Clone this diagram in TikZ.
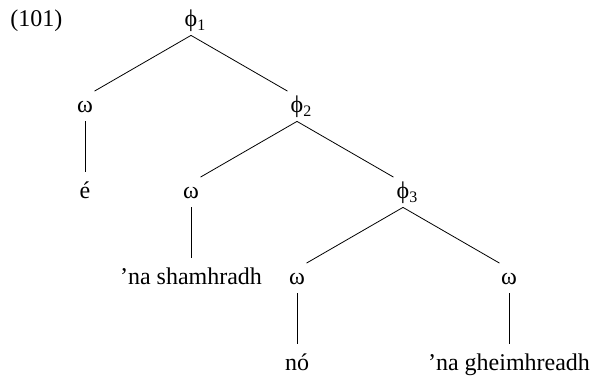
\documentclass[tikz,border=0pt,12pt]{standalone}
\usepackage{fontspec}
\setmainfont{Liberation Serif}
\usetikzlibrary{math}

\begin{document}
\begin{tikzpicture}[x=1pt, y=1pt,
	word/.style={inner sep=0pt, text height=8pt, text depth=4pt, anchor=base},
	branch/.style={shorten >=5.5pt}]
	% Constants
	\tikzmath{
		\colsep = 53; \rowsep = 43; \leftx = 42.5; \topy = -13.5;
	}
	\useasboundingbox (0, 0) rectangle (300.5, -189.5);

	% Example number
	\node[inner sep=0pt, anchor=base west] (num) at (5, \topy) {(101)};

	% Phonological phrases
	\node[word] (phi1) at ({\leftx + 1*\colsep}, {\topy - 0*\rowsep}) {ϕ\rlap{\textsubscript{1}}};
	\node[word] (phi2) at ({\leftx + 2*\colsep}, {\topy - 1*\rowsep}) {ϕ\rlap{\textsubscript{2}}};
	\node[word] (phi3) at ({\leftx + 3*\colsep}, {\topy - 2*\rowsep}) {ϕ\rlap{\textsubscript{3}}};

	% Prosodic words
	\node[word] (w1) at ({\leftx + 0*\colsep}, {\topy - 1*\rowsep}) {ω};
	\node[word] (w2) at ({\leftx + 1*\colsep}, {\topy - 2*\rowsep}) {ω};
	\node[word] (w3) at ({\leftx + 2*\colsep}, {\topy - 3*\rowsep}) {ω};
	\node[word] (w4) at ({\leftx + 4*\colsep}, {\topy - 3*\rowsep}) {ω};

	% Terminals
	\node[word] (t1) at ({\leftx + 0*\colsep}, {\topy - 2*\rowsep}) {é};
	\node[word] (t2) at ({\leftx + 1*\colsep}, {\topy - 3*\rowsep}) {’na shamhradh};
	\node[word] (t3) at ({\leftx + 2*\colsep}, {\topy - 4*\rowsep}) {nó};
	\node[word] (t4) at ({\leftx + 4*\colsep}, {\topy - 4*\rowsep}) {’na gheimhreadh};

	% Branches
	\foreach \mother/\daughter in {phi1/w1, phi1/phi2, phi2/w2, phi2/phi3, phi3/w3, phi3/w4,
		w1/t1, w2/t2, w3/t3, w4/t4} {
			\draw[branch] (\mother.south) -- (\daughter.north);
		}
\end{tikzpicture}
\end{document}
